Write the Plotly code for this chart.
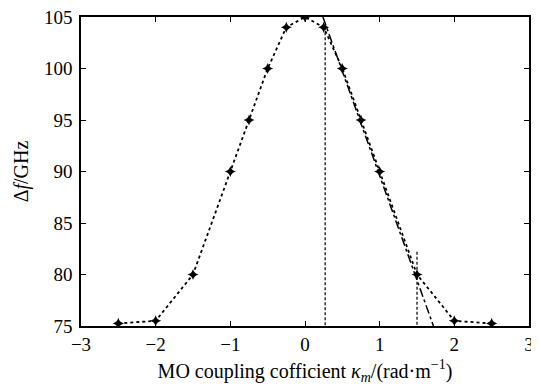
import plotly.graph_objects as go

kappa = [-2.5, -2.0, -1.5, -1.0, -0.75, -0.5, -0.25, 0.0, 0.25, 0.5, 0.75, 1.0, 1.5, 2.0, 2.5]
delta_f = [75.25, 75.5, 80.0, 90.0, 95.0, 100.0, 104.0, 105.0, 104.0, 100.0, 95.0, 90.0, 80.0, 75.5, 75.25]

fit_x = [0.24, 1.72]
fit_y = [105.0, 75.0]
vline1_x = [0.27, 0.27]
vline1_y = [104.0, 75.0]
vline2_x = [1.5, 1.5]
vline2_y = [82.2, 75.0]

xticks = [-3, -2, -1, 0, 1, 2, 3]
xticklabels = ["\u22123", "\u22122", "\u22121", "0", "1", "2", "3"]
yticks = [75, 80, 85, 90, 95, 100, 105]

fig = go.Figure()
fig.add_trace(go.Scatter(x=fit_x, y=fit_y, mode="lines",
                         line=dict(color="black", width=1.5, dash="dashdot"),
                         showlegend=False))
fig.add_trace(go.Scatter(x=vline1_x, y=vline1_y, mode="lines",
                         line=dict(color="black", width=1.2, dash="3px,2px"),
                         showlegend=False))
fig.add_trace(go.Scatter(x=vline2_x, y=vline2_y, mode="lines",
                         line=dict(color="black", width=1.2, dash="3px,2px"),
                         showlegend=False))
fig.add_trace(go.Scatter(x=kappa, y=delta_f, mode="lines+markers",
                         line=dict(color="black", width=1.8, dash="dot"),
                         marker=dict(symbol="star-diamond", size=8, color="black"),
                         showlegend=False))

tickfont = dict(family="Liberation Serif", size=19, color="black")
titlefont = dict(family="Liberation Serif", size=20, color="black")
# the page body adds an 8 px margin, so the figure is 8 px smaller
fig.update_layout(
    width=531, height=379,
    margin=dict(l=73, r=10, t=9, b=61, autoexpand=False),
    paper_bgcolor="white", plot_bgcolor="white",
    font=tickfont,
    xaxis=dict(range=[-3, 3], tickvals=xticks, ticktext=xticklabels,
               ticks="inside", ticklen=5, tickcolor="black", tickwidth=1,
               showline=True, linecolor="black", linewidth=1.5, mirror="ticks",
               showgrid=False, zeroline=False, automargin=False,
               tickfont=tickfont, ticklabeloverflow="allow",
               title=dict(text="MO coupling cofficient <i>\u03ba<sub>m</sub></i>/(rad\u00b7m<sup>\u22121</sup>)",
                          standoff=10, font=titlefont)),
    yaxis=dict(range=[75, 105], tickvals=yticks,
               ticks="inside", ticklen=5, tickcolor="black", tickwidth=1,
               showline=True, linecolor="black", linewidth=1.5, mirror="ticks",
               showgrid=False, zeroline=False, automargin=False,
               tickfont=tickfont, ticklabelstandoff=3, ticklabeloverflow="allow",
               title=dict(text="\u0394<i>f</i>/GHz", standoff=10, font=titlefont)),
)

fig.write_html("out.html")
